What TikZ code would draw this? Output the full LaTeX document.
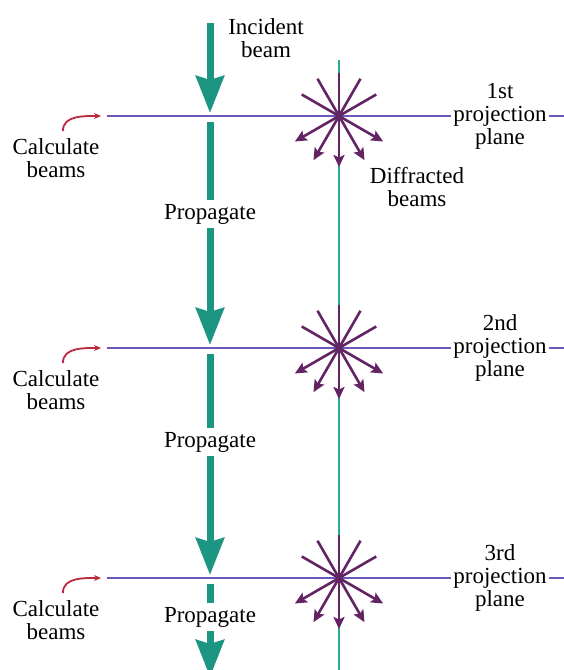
\documentclass[tikz,border=0pt]{standalone}
\usepackage{fontspec}
\setmainfont{Liberation Serif}
\usetikzlibrary{arrows.meta, positioning, calc}

\definecolor{beamteal}{RGB}{28,150,130}
\definecolor{axisteal}{RGB}{40,172,150}
\definecolor{planeviolet}{RGB}{108,88,188}
\definecolor{raypurple}{RGB}{98,36,98}
\definecolor{calcred}{RGB}{188,40,62}

\begin{document}
\begin{tikzpicture}[x=1pt, y=-1pt, font=\rmfamily\fontsize{23}{23}\selectfont, align=center,
    beam/.style={draw=beamteal, line width=7pt},
    beamhead/.style={beam, -{Stealth[length=37pt, width=28pt, inset=4pt]}},
    plane/.style={draw=planeviolet, line width=1.4pt},
    axis/.style={draw=axisteal, line width=1.4pt},
    ray/.style={draw=raypurple, line width=2.6pt},
    rayhead/.style={ray, -{Stealth[length=12pt, width=11pt, inset=2.5pt]}},
    calcarrow/.style={draw=calcred, line width=1.8pt, -{Stealth[length=7pt, width=6pt]}},
    projlabel/.style={inner sep=2pt},
    proplabel/.style={inner sep=4pt}]
    \useasboundingbox (0,0) rectangle (564,670);
    \clip (0,0) rectangle (564,670);
    \def\bx{210}
    \def\sx{339}

    \node (incident) at (266,38) {Incident\\beam};
    \node (diffracted) at (417,187) {Diffracted\\beams};
    \node[proplabel] (prop1) at (\bx,214) {Propagate};
    \node[proplabel] (prop2) at (\bx,442) {Propagate};
    \node[proplabel] (prop3) at (\bx,617) {Propagate};

    \coordinate (axtop) at (\sx,60);
    \coordinate (axbot) at (\sx,672);
    \coordinate (src) at (\bx,23);
    \coordinate (sink) at (\bx,677);

    \foreach \i/\y/\ord in {1/116/1st, 2/348/2nd, 3/578/3rd} {
        \coordinate (pl\i) at (107,\y);
        \coordinate (edge\i) at (564,\y);
        \coordinate (ctr\i) at (\sx,\y);
        \coordinate (hit\i) at (\bx,{\y-3});
        \coordinate (out\i) at (\bx,{\y+6});
        \coordinate (calcfrom\i) at (63,{\y+15});
        \coordinate (calcto\i) at (101,\y);
        \node[projlabel] (proj\i) at (500,\y) {\ord\\projection\\plane};
        \node (calc\i) at (56,{\y+42}) {Calculate\\beams};
        \draw[plane] (pl\i) -- (pl\i -| proj\i.west);
        \draw[plane] (pl\i -| proj\i.east) -- (edge\i);
        \draw[calcarrow] (calcfrom\i) to[out=92, in=180] (calcto\i);
    }

    \draw[axis] (axtop) -- (axbot);

    \foreach \i in {1,2,3} {
        \foreach \a in {-30,-60,-90,-120,-150}
            \draw[ray] (ctr\i) -- ++(\a:43);
        \foreach \a in {30,60,90,120,150}
            \draw[rayhead] (ctr\i) -- ++(\a:51);
    }

    \draw[beamhead] (src) -- (hit1);
    \draw[beam] (out1) -- (prop1);
    \draw[beamhead] (prop1) -- (hit2);
    \draw[beam] (out2) -- (prop2);
    \draw[beamhead] (prop2) -- (hit3);
    \draw[beam] (out3) -- (prop3);
    \draw[beamhead] (prop3) -- (sink);
\end{tikzpicture}
\end{document}
